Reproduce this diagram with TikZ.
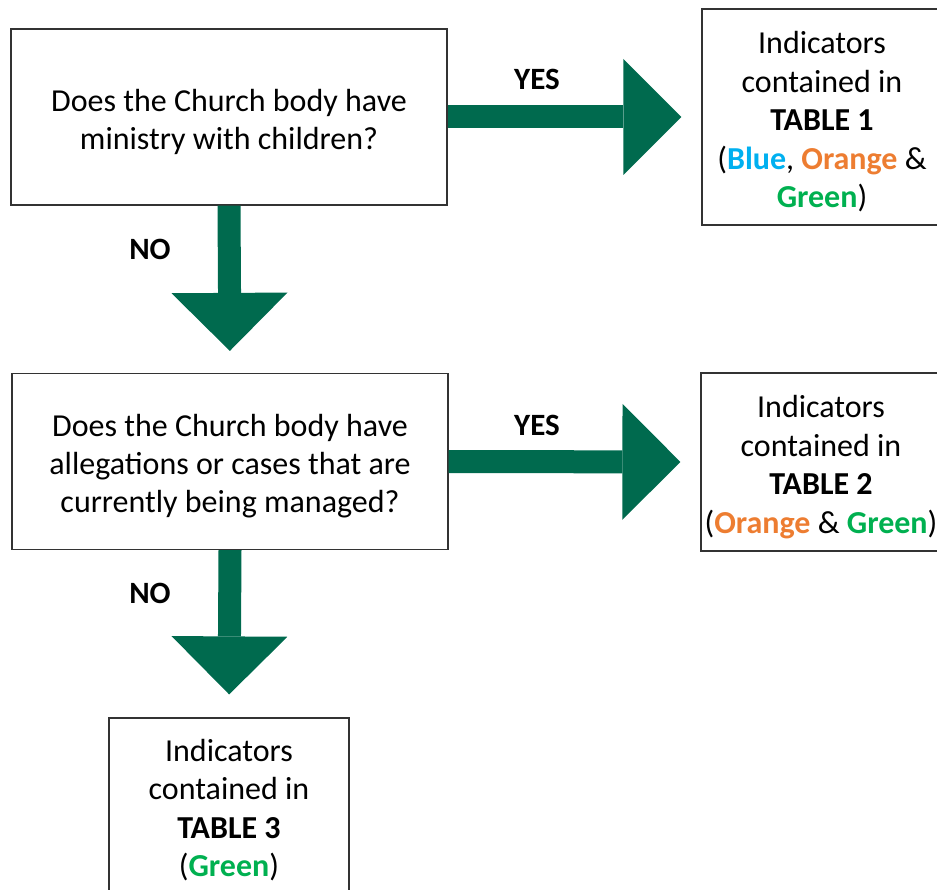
\documentclass[tikz,border=0pt]{standalone}
\usepackage{fontspec}
\setmainfont{Carlito}
\usetikzlibrary{arrows.meta}
\definecolor{arrowgreen}{RGB}{0,106,78}
\definecolor{tabblue}{RGB}{0,176,240}
\definecolor{taborange}{RGB}{237,125,49}
\definecolor{tabgreen}{RGB}{0,176,80}
\newcommand{\tabcol}[2]{\textcolor{#1}{\textbf{#2}}}
\newcommand{\topstrut}{\rule{0pt}{32pt}}

\begin{document}
\begin{tikzpicture}[x=1pt, y=-1pt,
	question box/.style={draw=black!80, line width=1.2pt, inner sep=0pt, minimum width=436pt, minimum height=176pt, align=center, font=\fontsize{32}{38}\selectfont},
	table box/.style={draw=black!80, line width=1.2pt, inner sep=0pt, minimum width=240pt, align=center, font=\fontsize{32}{38.5}\selectfont},
	block arrow/.style={draw=arrowgreen, line width=23pt, -{Triangle[width=116pt,length=58pt,line width=0pt]}, shorten >=20pt},
	answer/.style={font=\fontsize{31}{38}\selectfont\bfseries}]
	\useasboundingbox (0,0) rectangle (937,890);
	\clip (0,0) rectangle (937,890);
	
	%questions
	\node[question box] (q1) at (229,117) {\topstrut Does the Church body have\\ministry with children?};
	\node[question box] (q2) at (230,461.5) {\topstrut Does the Church body have\\allegations or cases that are\\currently being managed?};
	
	%tables
	\node[table box, minimum height=216pt] (t1) at (822,117) {\topstrut Indicators\\contained in\\\textbf{TABLE 1}\\(\tabcol{tabblue}{Blue}, \tabcol{taborange}{Orange} \&\\\tabcol{tabgreen}{Green})};
	\node[table box, minimum height=178pt] (t2) at (821,462) {\topstrut Indicators\\contained in\\\textbf{TABLE 2}\\(\tabcol{taborange}{Orange} \& \tabcol{tabgreen}{Green})};
	\node[table box, minimum height=184pt] (t3) at (229,810) {Indicators\\contained in\\\textbf{TABLE 3}\\(\tabcol{tabgreen}{Green})};
	
	%yes arrows
	\draw[block arrow] (q1.east) -- (t1.west);
	\draw[block arrow] (q2.east) -- (t2.west);
	%no arrows
	\draw[block arrow, shorten >=22pt] (q1.south) -- (q2.north);
	\draw[block arrow, shorten >=23pt] (q2.south) -- (t3.north);
	
	%labels
	\node[answer] (yes1) at (537,79) {YES};
	\node[answer] (yes2) at (537,425) {YES};
	\node[answer] (no1) at (150,249) {NO};
	\node[answer] (no2) at (150,593) {NO};
\end{tikzpicture}
\end{document}
